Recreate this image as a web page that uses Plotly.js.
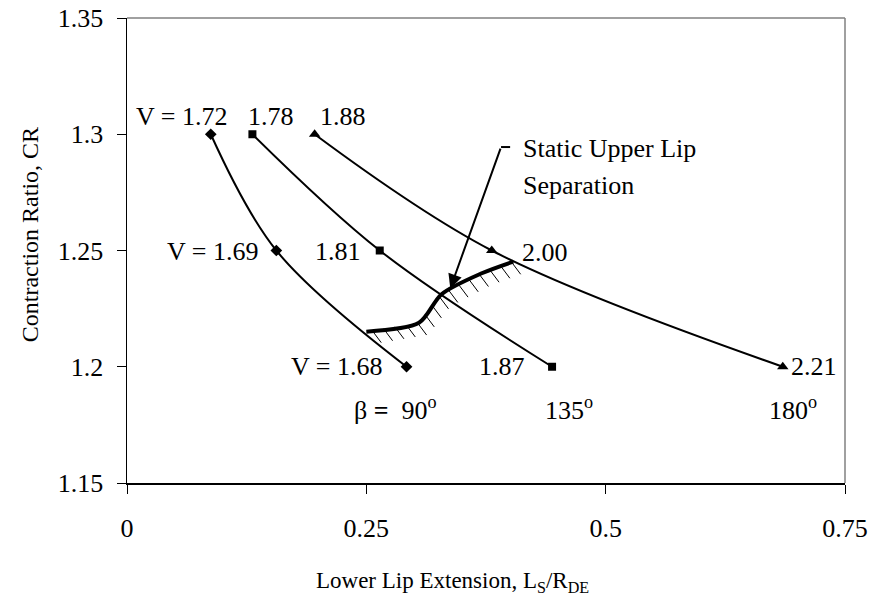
<!DOCTYPE html>
<html>
<head>
<meta charset="utf-8">
<script src="https://cdn.plot.ly/plotly-3.0.1.min.js"></script>
<style>html,body{margin:0;padding:0;background:#fff;}#chart{width:870px;height:605px;}</style>
</head>
<body>
<div id="chart"></div>
<script>
// ---- data ----
const crValues = [1.30, 1.25, 1.20];
const beta90X  = [0.0875, 0.156, 0.292];
const beta135X = [0.131, 0.264, 0.444];
const beta180X = [0.196, 0.381, 0.685];
const beta90V  = ['V = 1.72', 'V = 1.69', 'V = 1.68'];
const beta135V = ['1.78', '1.81', '1.87'];
const beta180V = ['1.88', '2.00', '2.21'];
const betaLabels = ['\u03b2 <b>=</b>\u00a0\u00a090<sup>o</sup>', '135<sup>o</sup>', '180<sup>o</sup>'];
const separationX = [0.250, 0.305, 0.3286, 0.3706, 0.4035];
const separationY = [1.2151, 1.2189, 1.2312, 1.2402, 1.2452];
const xTicks = [0, 0.25, 0.5, 0.75];
const xTickText = ['0', '0.25', '0.5', '0.75'];
const yTicks = [1.15, 1.2, 1.25, 1.3, 1.35];
const yTickText = ['1.15', '1.2', '1.25', '1.3', '1.35'];
const arrowTip = [0.3377, 1.2337];
const arrowTail = [0.3907, 1.2945];

// ---- geometry helpers ----
const X_RANGE = [0, 0.75], Y_RANGE = [1.15, 1.35];
const M = {l: 127, r: 25, t: 18, b: 122};
const PW = 870 - M.l - M.r, PH = 605 - M.t - M.b;
const toPx = (x, y) => [(x - X_RANGE[0]) / (X_RANGE[1] - X_RANGE[0]) * PW,
                        (Y_RANGE[1] - y) / (Y_RANGE[1] - Y_RANGE[0]) * PH];
const toData = (px, py) => [X_RANGE[0] + px / PW * (X_RANGE[1] - X_RANGE[0]),
                            Y_RANGE[1] - py / PH * (Y_RANGE[1] - Y_RANGE[0])];

// hatch marks hanging below the separation boundary
const hatchX = [], hatchY = [];
(function () {
  const pts = separationX.map((x, i) => toPx(x, separationY[i]));
  const step = 11.5, off = [9, 12];
  let carry = 6;
  for (let i = 0; i < pts.length - 1; i++) {
    const [x0, y0] = pts[i], [x1, y1] = pts[i + 1];
    const len = Math.hypot(x1 - x0, y1 - y0);
    let s = carry;
    while (s <= len) {
      const px = x0 + (x1 - x0) * s / len, py = y0 + (y1 - y0) * s / len;
      const a = toData(px, py), b = toData(px + off[0], py + off[1]);
      hatchX.push(a[0], b[0], null); hatchY.push(a[1], b[1], null);
      s += step;
    }
    carry = s - len;
  }
})();

const FONT = 'Liberation Serif, Times New Roman, serif';
const lineStyle = {color: '#000', width: 2, shape: 'spline', smoothing: 1};

const traces = [
  {x: beta90X, y: crValues, mode: 'lines+markers', line: lineStyle,
   marker: {symbol: 'diamond', size: 9, color: '#000'}, hoverinfo: 'x+y'},
  {x: beta135X, y: crValues, mode: 'lines+markers', line: lineStyle,
   marker: {symbol: 'square', size: 8, color: '#000'}, hoverinfo: 'x+y'},
  {x: beta180X, y: crValues, mode: 'lines+markers', line: lineStyle,
   marker: {symbol: 'triangle-up', size: 10, color: '#000'}, hoverinfo: 'x+y'},
  {x: hatchX, y: hatchY, mode: 'lines', line: {color: '#000', width: 1}, hoverinfo: 'skip'},
  {x: separationX, y: separationY, mode: 'lines',
   line: {color: '#000', width: 4, shape: 'spline', smoothing: 0.8}, hoverinfo: 'skip'}
];

const ann = [];
const tf = {family: FONT, size: 26, color: '#000'};
function lab(x, y, text, anchor, xs, ys) {
  ann.push({x: x, y: y, xref: 'x', yref: 'y', text: text, showarrow: false,
            xanchor: anchor, yanchor: 'middle', xshift: xs, yshift: ys, font: tf});
}
// top row (CR = 1.30): labels sit above the markers
lab(beta90X[0], crValues[0], beta90V[0], 'right', 18, 18);
lab(beta135X[0], crValues[0], beta135V[0], 'left', -6, 18);
lab(beta180X[0], crValues[0], beta180V[0], 'left', 3, 18);
// middle row (CR = 1.25)
lab(beta90X[1], crValues[1], beta90V[1], 'right', -16, -1);
lab(beta135X[1], crValues[1], beta135V[1], 'right', -17, -1);
lab(beta180X[1], crValues[1], beta180V[1], 'left', 28, -2);
// bottom row (CR = 1.20)
lab(beta90X[2], crValues[2], beta90V[2], 'right', -23, 0);
lab(beta135X[2], crValues[2], beta135V[2], 'right', -25, 0);
lab(beta180X[2], crValues[2], beta180V[2], 'left', 6, 0);
// beta labels
lab(beta90X[2], crValues[2], betaLabels[0], 'left', -55, -42);
lab(beta135X[2], crValues[2], betaLabels[1], 'left', -9, -42);
lab(beta180X[2], crValues[2], betaLabels[2], 'left', -16, -42);

// Static upper lip separation note + arrow
ann.push({x: arrowTail[0], y: arrowTail[1], xref: 'x', yref: 'y', text: 'Static Upper Lip',
          showarrow: false, xanchor: 'left', yanchor: 'middle', xshift: 20, yshift: -1, font: tf});
ann.push({x: arrowTail[0], y: arrowTail[1], xref: 'x', yref: 'y', text: 'Separation',
          showarrow: false, xanchor: 'left', yanchor: 'middle', xshift: 20, yshift: -38, font: tf});
ann.push({x: arrowTip[0], y: arrowTip[1], xref: 'x', yref: 'y', ax: arrowTail[0], ay: arrowTail[1],
          axref: 'x', ayref: 'y', text: '', showarrow: true, arrowhead: 2, arrowsize: 1.4,
          arrowwidth: 2, arrowcolor: '#000'});

// axis titles
ann.push({x: 0.454, y: -0.213, xref: 'paper', yref: 'paper', showarrow: false,
          text: 'Lower Lip Extension, L<sub>S</sub>/R<sub>DE</sub>', font: {family: FONT, size: 23, color: '#000'},
          xanchor: 'center', yanchor: 'middle'});
ann.push({x: -0.135, y: 0.533, xref: 'paper', yref: 'paper', showarrow: false, textangle: -90,
          text: 'Contraction Ratio, CR', font: {family: FONT, size: 24, color: '#000'},
          xanchor: 'center', yanchor: 'middle'});

const layout = {
  width: 870, height: 605, margin: M,
  paper_bgcolor: '#fff', plot_bgcolor: '#fff', showlegend: false,
  font: {family: FONT, size: 26, color: '#000'},
  xaxis: {range: X_RANGE, tickvals: xTicks, ticktext: xTickText, ticks: 'outside', ticklen: 9,
          tickcolor: '#000', tickwidth: 1, showline: true, linecolor: '#000', linewidth: 1.5,
          showgrid: false, zeroline: false, ticklabelstandoff: 12, tickfont: {family: FONT, size: 26}},
  yaxis: {range: Y_RANGE, tickvals: yTicks, ticktext: yTickText, ticks: 'outside', ticklen: 9,
          tickcolor: '#000', tickwidth: 1, showline: true, linecolor: '#000', linewidth: 1.5,
          showgrid: false, zeroline: false, ticklabelstandoff: 8, tickfont: {family: FONT, size: 26}},
  shapes: [
    {type: 'line', xref: 'paper', yref: 'paper', x0: 0, x1: 1, y0: 1, y1: 1, line: {color: '#808080', width: 1.5}},
    {type: 'line', xref: 'paper', yref: 'paper', x0: 1, x1: 1, y0: 0, y1: 1, line: {color: '#808080', width: 1.5}},
    {type: 'line', xref: 'x', yref: 'y', x0: arrowTail[0], y0: arrowTail[1], x1: arrowTail[0] + 0.0095, y1: arrowTail[1],
     line: {color: '#000', width: 2}}
  ],
  annotations: ann
};

Plotly.newPlot('chart', traces, layout, {displayModeBar: false, staticPlot: true});
</script>
</body>
</html>
